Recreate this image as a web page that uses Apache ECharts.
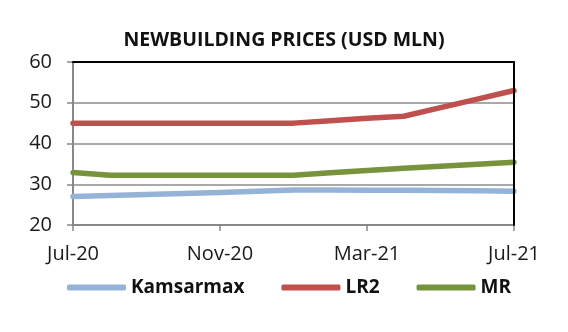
<!DOCTYPE html>
<html>
<head>
<meta charset="utf-8">
<script src="https://cdn.jsdelivr.net/npm/echarts@6/dist/echarts.min.js"></script>
<style>
html,body{margin:0;padding:0;background:#fff;}
#c{width:568px;height:332px;}
</style>
</head>
<body>
<div id="c"></div>
<script>
var months = ["Jul-20","Aug-20","Sep-20","Oct-20","Nov-20","Dec-20","Jan-21","Feb-21","Mar-21","Apr-21","May-21","Jun-21","Jul-21"];
var kamsarmax = [27.0, 27.25, 27.5, 27.75, 28.0, 28.3, 28.6, 28.6, 28.55, 28.5, 28.45, 28.4, 28.3];
var lr2 = [45.0, 45.0, 45.0, 45.0, 45.0, 45.0, 45.0, 45.6, 46.2, 46.7, 48.8, 50.9, 53.0];
var mr = [32.9, 32.2, 32.2, 32.2, 32.2, 32.2, 32.2, 32.8, 33.4, 33.9, 34.4, 34.9, 35.4];
var yTicks = [20, 30, 40, 50, 60];

var FONT = "'Open Sans', 'Noto Sans', sans-serif";
var chart = echarts.init(document.getElementById('c'), null, {renderer:'canvas'});
chart.setOption({
  animation: false,
  backgroundColor: '#ffffff',
  title: {
    text: 'NEWBUILDING PRICES (USD MLN)',
    left: 'center', top: 25,
    textStyle: {fontFamily: FONT, fontWeight: 'bold', fontSize: 19.5, color: '#111'}
  },
  legend: {
    bottom: 30, left: 62,
    itemWidth: 59, itemHeight: 6, itemGap: 37,
    icon: 'roundRect',
    textStyle: {fontFamily: FONT, fontWeight: 'bold', fontSize: 19, color: '#111'},
    data: ['Kamsarmax','LR2','MR']
  },
  grid: {left: 73, right: 54, top: 62, bottom: 107, containLabel: false},
  xAxis: [{
    type: 'category', data: months, boundaryGap: false,
    axisLine: {lineStyle: {color: '#888', width: 2}},
    axisTick: {show: true, interval: 3, length: 6, inside: false, lineStyle: {color: '#888', width: 1.5}},
    axisLabel: {interval: 3, margin: 19, fontFamily: FONT, fontSize: 20, color: '#1a1a1a'},
    splitLine: {show: false}
  },{
    type: 'category', data: months, boundaryGap: false, position: 'top', z: 10,
    axisLine: {lineStyle: {color: '#000', width: 2}},
    axisTick: {show: false}, axisLabel: {show: false}
  }],
  yAxis: [{
    type: 'value', min: 20, max: 60, interval: 10,
    axisLine: {show: true, lineStyle: {color: '#888', width: 2}},
    axisTick: {show: true, length: 6, lineStyle: {color: '#888', width: 1.5}},
    axisLabel: {margin: 21, fontFamily: FONT, fontSize: 20, color: '#1a1a1a',
      formatter: function(v){ return yTicks.indexOf(v) >= 0 ? String(v) : ''; }},
    splitLine: {show: true, lineStyle: {color: '#8c8c8c', width: 1.5}}
  },{
    type: 'value', min: 20, max: 60, interval: 10, position: 'right', z: 10,
    axisLine: {show: true, lineStyle: {color: '#000', width: 2}},
    axisTick: {show: false}, axisLabel: {show: false}, splitLine: {show: false}
  }],
  series: [
    {name: 'Kamsarmax', type: 'line', data: kamsarmax, symbol: 'none', color: '#95b3d7',
      lineStyle: {width: 5.5, color: '#95b3d7', cap: 'round', join: 'round'}, z: 3},
    {name: 'LR2', type: 'line', data: lr2, symbol: 'none', color: '#c0504d',
      lineStyle: {width: 5.5, color: '#c0504d', cap: 'round', join: 'round'}, z: 3},
    {name: 'MR', type: 'line', data: mr, symbol: 'none', color: '#77933c',
      lineStyle: {width: 5.5, color: '#77933c', cap: 'round', join: 'round'}, z: 3}
  ]
});
</script>
</body>
</html>
